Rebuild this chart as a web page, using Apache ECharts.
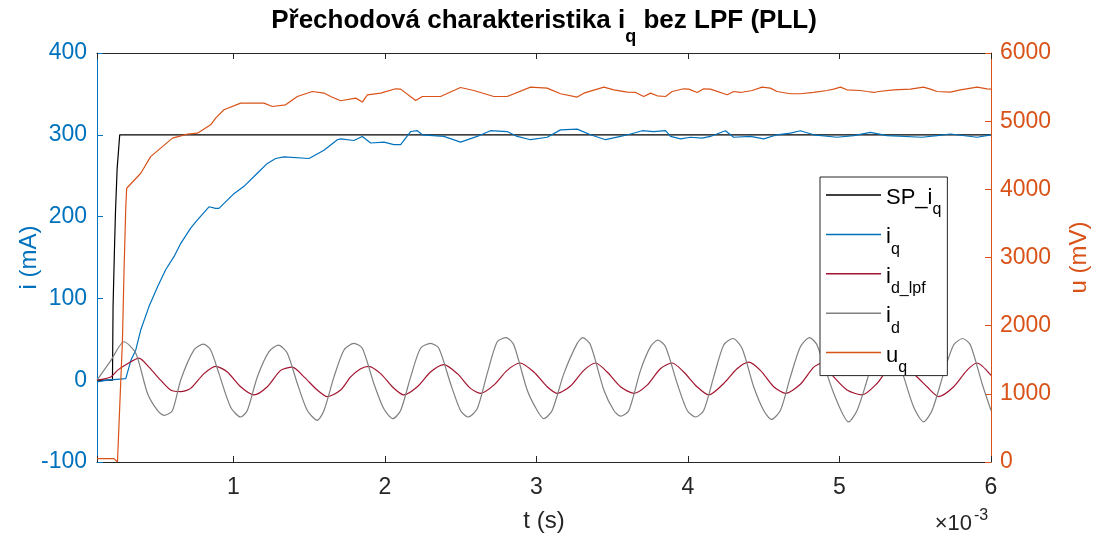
<!DOCTYPE html>
<html><head><meta charset="utf-8">
<script src="https://cdn.jsdelivr.net/npm/echarts@6/dist/echarts.min.js"></script>
<style>html,body{margin:0;padding:0;background:#fff}#c{width:1096px;height:538px}</style>
</head><body><div id="c"></div>
<script>
// time in ms (axis shows t (s) x10^-3)
const X_MIN = 0.1, X_MAX = 6;
const Y_LEFT = [-100, 400, 100];
const Y_RIGHT = [0, 6000, 1000];

const SP_iq = [[0.1,0],[0.202,0],[0.206,90],[0.212,90],[0.214,151],[0.219,151],[0.222,206],[0.229,206],[0.233,259],[0.245,259],[0.25,300],[6.0,300]];

const i_q = [[0.1,-2],[0.169,0],[0.290,2],[0.301,0],[0.323,24],[0.356,37],[0.388,61],[0.443,90],[0.499,114],[0.553,135],[0.608,151],[0.652,167],[0.718,186],[0.763,196],[0.839,212],[0.883,210],[0.905,210],[1.004,228],[1.070,237],[1.158,253],[1.224,265],[1.279,271],[1.334,273],[1.499,271],[1.598,281],[1.686,294],[1.708,295],[1.795,293],[1.851,298],[1.906,290],[1.994,291],[2.059,288],[2.104,288],[2.170,304],[2.214,305],[2.247,300],[2.389,298],[2.499,291],[2.609,298],[2.697,305],[2.807,304],[2.873,298],[2.961,294],[3.071,297],[3.159,306],[3.269,307],[3.357,300],[3.456,294],[3.555,298],[3.621,301],[3.698,305],[3.775,304],[3.852,305],[3.885,298],[3.951,295],[4.017,297],[4.094,296],[4.148,298],[4.247,305],[4.302,297],[4.412,298],[4.500,295],[4.588,300],[4.676,302],[4.742,305],[4.830,300],[4.984,297],[5.094,299],[5.204,303],[5.314,299],[5.545,297],[5.644,299],[5.732,301],[5.908,297],[6.0,300]];

const i_d_lpf = [[0.1,0],[0.191,4],[0.235,12],[0.301,20],[0.377,27],[0.443,16],[0.520,0],[0.586,-12],[0.652,-14],[0.718,-10],[0.806,8],[0.883,17],[0.960,10],[1.048,-8],[1.136,-18],[1.224,-8],[1.312,12],[1.389,16],[1.466,4],[1.554,-12],[1.620,-20],[1.708,-12],[1.774,4],[1.840,14],[1.894,17],[1.972,8],[2.049,-8],[2.125,-18],[2.214,-8],[2.301,10],[2.389,19],[2.478,8],[2.565,-10],[2.631,-16],[2.719,-6],[2.807,12],[2.891,21],[2.983,10],[3.071,-8],[3.137,-16],[3.225,-7],[3.313,12],[3.390,21],[3.467,10],[3.555,-8],[3.643,-16],[3.731,-6],[3.818,14],[3.896,21],[3.972,10],[4.060,-8],[4.137,-18],[4.236,-4],[4.324,14],[4.401,22],[4.478,12],[4.566,-8],[4.643,-16],[4.742,-5],[4.830,16],[4.887,21],[4.962,4],[5.050,-12],[5.149,-18],[5.248,-4],[5.323,14],[5.402,20],[5.512,4],[5.578,-8],[5.655,-20],[5.754,-8],[5.841,12],[5.907,21],[6.0,6]];

const i_d = [[0.1,0],[0.191,24],[0.278,47],[0.356,33],[0.433,-16],[0.499,-37],[0.542,-43],[0.598,-37],[0.652,0],[0.740,37],[0.802,44],[0.850,37],[0.905,8],[0.982,-33],[1.048,-45],[1.092,-37],[1.158,4],[1.235,35],[1.297,43],[1.356,33],[1.422,-4],[1.488,-37],[1.554,-49],[1.598,-37],[1.664,4],[1.730,37],[1.796,45],[1.851,39],[1.927,-4],[1.993,-35],[2.053,-47],[2.104,-37],[2.170,4],[2.235,39],[2.301,45],[2.356,39],[2.433,-4],[2.499,-37],[2.548,-45],[2.609,-35],[2.675,8],[2.741,47],[2.801,52],[2.851,43],[2.939,-12],[3.005,-37],[3.049,-47],[3.104,-37],[3.181,8],[3.269,45],[3.306,52],[3.357,43],[3.445,-12],[3.511,-37],[3.555,-44],[3.610,-37],[3.687,12],[3.753,41],[3.801,49],[3.852,41],[3.929,-4],[3.995,-37],[4.050,-45],[4.104,-37],[4.170,4],[4.236,43],[4.298,51],[4.357,39],[4.434,-8],[4.500,-37],[4.551,-48],[4.610,-37],[4.676,4],[4.742,41],[4.803,52],[4.852,43],[4.962,-16],[5.061,-51],[5.116,-37],[5.182,0],[5.243,40],[5.309,50],[5.356,40],[5.424,4],[5.490,-33],[5.555,-51],[5.611,-37],[5.687,8],[5.753,43],[5.813,51],[5.864,43],[5.941,-4],[6.0,-37]];

const u_q = [[0.1,50],[0.212,50],[0.235,0],[0.245,0],[0.268,1788],[0.278,2768],[0.290,3746],[0.296,4016],[0.389,4236],[0.454,4480],[0.520,4604],[0.598,4751],[0.697,4810],[0.763,4824],[0.850,4946],[0.883,5045],[0.938,5167],[1.048,5265],[1.202,5265],[1.257,5215],[1.345,5240],[1.422,5362],[1.521,5435],[1.598,5412],[1.642,5362],[1.708,5300],[1.807,5338],[1.851,5280],[1.884,5387],[1.972,5411],[2.071,5475],[2.104,5470],[2.203,5303],[2.247,5362],[2.367,5362],[2.499,5494],[2.587,5450],[2.719,5362],[2.807,5362],[2.961,5500],[3.071,5485],[3.159,5402],[3.269,5353],[3.313,5411],[3.445,5500],[3.511,5460],[3.599,5426],[3.654,5421],[3.708,5362],[3.753,5411],[3.797,5372],[3.852,5362],[3.896,5435],[3.972,5475],[4.005,5470],[4.061,5421],[4.104,5475],[4.148,5470],[4.259,5387],[4.302,5435],[4.346,5421],[4.424,5450],[4.489,5500],[4.544,5485],[4.588,5435],[4.676,5402],[4.741,5402],[4.830,5421],[4.918,5450],[4.962,5470],[5.006,5500],[5.050,5460],[5.138,5450],[5.182,5435],[5.226,5421],[5.259,5435],[5.357,5460],[5.468,5470],[5.555,5500],[5.600,5470],[5.644,5435],[5.732,5426],[5.798,5460],[5.908,5500],[5.974,5475],[6.0,5470]];

const SERIES_NAMES = ['SP_iq','iq','id_lpf','id','uq'];
const LEGEND_RICH = {SP_iq:'{m|SP_i}{s|q}', iq:'{m|i}{s|q}', id_lpf:'{m|i}{s|d_lpf}', id:'{m|i}{s|d}', uq:'{m|u}{s|q}'};

const FONT = '"Liberation Sans", Arial, Helvetica, sans-serif';
const BLUE = '#0072BD', ORANGE = '#D95319', RED = '#A2142F', GRAY = '#808080', DARK = '#262626';

const chart = echarts.init(document.getElementById('c'), null, {renderer:'canvas'});
const xLabelFmt = v => (Math.abs(v - Math.round(v)) < 1e-9 ? String(Math.round(v)) : '');
const plainFmt = v => String(v);
chart.setOption({
  animation: false,
  backgroundColor: '#fff',
  textStyle: {fontFamily: FONT},
  title: {
    text: '{m|Přechodová charakteristika i}{s|q}{m| bez LPF (PLL)}',
    left: 544, textAlign: 'center', top: 6, padding: 0,
    textStyle: {fontFamily: FONT, fontSize: 26, fontWeight: 'bold', color: '#000',
      rich: {
        m: {fontFamily: FONT, fontSize: 26, fontWeight: 'bold', color: '#000', lineHeight: 28, verticalAlign: 'top', padding: [2,0,0,0]},
        s: {fontFamily: FONT, fontSize: 18, fontWeight: 'bold', color: '#000', lineHeight: 18, verticalAlign: 'top', padding: [22,0,0,0]}
      }}
  },
  grid: {left: 97, top: 53, width: 894, height: 409, containLabel: false, outerBoundsMode: 'none'},
  legend: {
    data: SERIES_NAMES, orient: 'vertical', left: 820, top: 177,
    padding: [6, 6, 0, 6], itemWidth: 55, itemHeight: 1.5, itemGap: 4.4, icon: 'rect',
    borderColor: DARK, borderWidth: 1, backgroundColor: '#fff',
    formatter: n => LEGEND_RICH[n],
    textStyle: {fontFamily: FONT, fontSize: 22, color: '#000',
      rich: {
        m: {fontFamily: FONT, fontSize: 22, color: '#000', lineHeight: 24, verticalAlign: 'top', padding: [4,0,0,0]},
        s: {fontFamily: FONT, fontSize: 16, color: '#000', lineHeight: 16, verticalAlign: 'top', padding: [19,0,0,0]}
      }}
  },
  xAxis: [{
    type: 'value', position: 'bottom', min: X_MIN, max: X_MAX,
    name: 't (s)', nameLocation: 'middle', nameGap: 47, nameMoveOverlap: false,
    nameTextStyle: {fontFamily: FONT, fontSize: 24, color: DARK},
    axisLine: {show: true, onZero: false, lineStyle: {color: DARK, width: 1}},
    axisTick: {show: true, inside: true, length: 6, lineStyle: {color: DARK}},
    axisLabel: {fontFamily: FONT, fontSize: 23, color: DARK, margin: 14, formatter: xLabelFmt},
    splitLine: {show: false}
  }, {
    type: 'value', position: 'top', min: X_MIN, max: X_MAX,
    axisLine: {show: true, onZero: false, lineStyle: {color: DARK, width: 1}},
    axisTick: {show: true, inside: true, length: 6, lineStyle: {color: DARK}},
    axisLabel: {show: false}, splitLine: {show: false}
  }],
  yAxis: [{
    type: 'value', position: 'left', min: Y_LEFT[0], max: Y_LEFT[1], interval: Y_LEFT[2],
    name: 'i (mA)', nameLocation: 'middle', nameGap: 56, nameRotate: 90, nameMoveOverlap: false,
    nameTextStyle: {fontFamily: FONT, fontSize: 24, color: BLUE},
    axisLine: {show: true, onZero: false, lineStyle: {color: BLUE, width: 1}},
    axisTick: {show: true, inside: true, length: 6, lineStyle: {color: BLUE}},
    axisLabel: {fontFamily: FONT, fontSize: 23, color: BLUE, margin: 10, formatter: plainFmt},
    splitLine: {show: false}
  }, {
    type: 'value', position: 'right', min: Y_RIGHT[0], max: Y_RIGHT[1], interval: Y_RIGHT[2],
    name: 'u (mV)', nameLocation: 'middle', nameGap: 76, nameRotate: 90, nameMoveOverlap: false,
    nameTextStyle: {fontFamily: FONT, fontSize: 24, color: ORANGE},
    axisLine: {show: true, onZero: false, lineStyle: {color: ORANGE, width: 1}},
    axisTick: {show: true, inside: true, length: 6, lineStyle: {color: ORANGE}},
    axisLabel: {fontFamily: FONT, fontSize: 23, color: ORANGE, margin: 9, formatter: plainFmt},
    splitLine: {show: false}
  }],
  graphic: [
    {type: 'text', style: {text: '×10', x: 972, y: 524, align: 'right', textAlign: 'right', verticalAlign: 'middle', textVerticalAlign: 'middle', font: '22px "Liberation Sans", Arial, sans-serif', fill: DARK}},
    {type: 'text', style: {text: '-3', x: 974, y: 516, align: 'left', textAlign: 'left', verticalAlign: 'middle', textVerticalAlign: 'middle', font: '16px "Liberation Sans", Arial, sans-serif', fill: DARK}}
  ],
  series: [
    {name: 'SP_iq', type: 'line', data: SP_iq, symbol: 'none', lineStyle: {color: '#000', width: 1.2}, itemStyle: {color: '#000'}},
    {name: 'iq', type: 'line', data: i_q, symbol: 'none', lineStyle: {color: BLUE, width: 1.2}, itemStyle: {color: BLUE}},
    {name: 'id_lpf', type: 'line', data: i_d_lpf, symbol: 'none', smooth: 0.25, lineStyle: {color: RED, width: 1.2}, itemStyle: {color: RED}},
    {name: 'id', type: 'line', data: i_d, symbol: 'none', smooth: 0.25, lineStyle: {color: GRAY, width: 1.2}, itemStyle: {color: GRAY}},
    {name: 'uq', type: 'line', yAxisIndex: 1, data: u_q, symbol: 'none', lineStyle: {color: ORANGE, width: 1.2}, itemStyle: {color: ORANGE}}
  ]
});
</script></body></html>
